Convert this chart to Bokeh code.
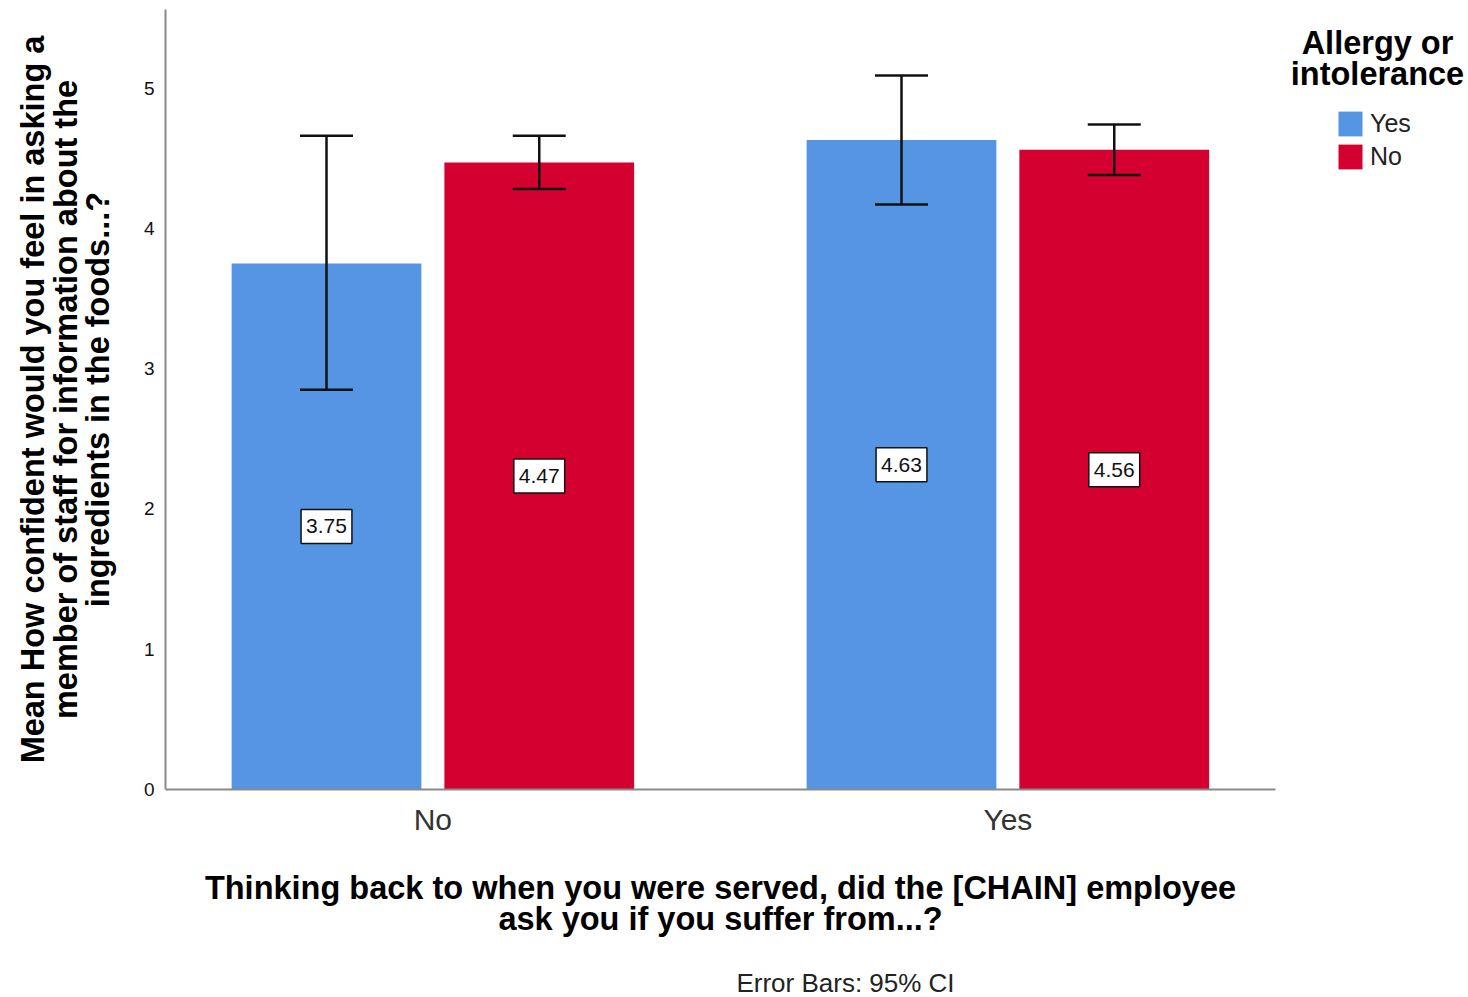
import math

from bokeh.embed import file_html
from bokeh.models import (ColumnDataSource, FixedTicker, Label, Range1d,
                          TeeHead, Whisker)
from bokeh.plotting import figure
from bokeh.resources import INLINE

# --- data -------------------------------------------------------------------
asked_groups = ["No", "Yes"]          # did the employee ask about allergies?
allergy_levels = ["Yes", "No"]        # respondent has an allergy / intolerance
mean_allergy_yes = [3.75, 4.63]
mean_allergy_no = [4.47, 4.56]
ci_low_allergy_yes = [2.85, 4.17]
ci_high_allergy_yes = [4.66, 5.09]
ci_low_allergy_no = [4.28, 4.38]
ci_high_allergy_no = [4.66, 4.74]
y_tick_values = [0, 1, 2, 3, 4, 5]

# --- style ------------------------------------------------------------------
BLUE = "#5595e4"
RED = "#d4002f"
FONT = "Liberation Sans"
INK = "#111111"
TITLE_SIZE = "32.5px"

# The plotting frame covers the whole canvas; both axes are pinned with
# fixed_location so that titles and the legend can sit around them.
W, H = 1468, 997
FL, FT, FB = 165, 9, 789          # axis corner (left, bottom) and axis top
AXIS_RIGHT = 1275                 # where the category axis line stops
PX_PER_X = 575.0                  # pixels per category step
X0 = -0.465                       # data x at the value axis
X_AXIS_END = X0 + (AXIS_RIGHT - FL) / PX_PER_X
Y_TOP = 5.56                      # data y at the top of the value axis
PX_PER_Y = (FB - FT) / Y_TOP
DODGE = 0.185
BAR_W = 0.33


def dx(px):
    return X0 + (px - FL) / PX_PER_X


def dy(py):
    return (FB - py) / PX_PER_Y


p = figure(width=W, height=H,
           x_range=Range1d(dx(0), dx(W)), y_range=Range1d(dy(H), dy(0)),
           output_backend="svg", toolbar_location=None,
           min_border=0, min_border_left=0, min_border_right=0,
           min_border_top=0, min_border_bottom=0)
p.title.visible = False
p.outline_line_color = None
p.xgrid.visible = False
p.ygrid.visible = False
p.background_fill_color = "white"
p.border_fill_color = "white"

series = [
    ("Yes", BLUE, -DODGE, mean_allergy_yes, ci_low_allergy_yes, ci_high_allergy_yes),
    ("No", RED, DODGE, mean_allergy_no, ci_low_allergy_no, ci_high_allergy_no),
]

for name, color, off, means, lo, hi in series:
    xs = [i + off for i in range(len(asked_groups))]
    src = ColumnDataSource(dict(x=xs, top=means, lo=lo, hi=hi))
    p.vbar(x="x", top="top", bottom=0, width=BAR_W, source=src,
           fill_color=color, line_color=None, legend_label=name)
    whisk = Whisker(source=src, base="x", lower="lo", upper="hi",
                    line_color=INK, line_width=2.5, level="overlay",
                    upper_head=TeeHead(size=53, line_color=INK, line_width=2.5),
                    lower_head=TeeHead(size=53, line_color=INK, line_width=2.5))
    p.add_layout(whisk)
    for x, m in zip(xs, means):
        p.add_layout(Label(x=x, y=m / 2, text=f"{m:.2f}", text_align="center",
                           text_baseline="middle", text_font=FONT,
                           text_font_size="21px", text_color=INK,
                           background_fill_color="white",
                           border_line_color=INK, border_line_width=1.5,
                           padding=(5, 10)))

# --- axes -------------------------------------------------------------------
for ax in (p.xaxis[0], p.yaxis[0]):
    ax.axis_line_color = "#8a8a8a"
    ax.axis_line_width = 2
    ax.major_tick_line_color = None
    ax.minor_tick_line_color = None
    ax.major_tick_out = 0
    ax.major_tick_in = 0
    ax.major_label_text_font = FONT
    ax.major_label_text_color = INK

p.yaxis.fixed_location = X0
p.yaxis.bounds = (0, Y_TOP)
p.yaxis.ticker = FixedTicker(ticks=y_tick_values)
p.yaxis.major_label_text_font_size = "19px"
p.yaxis.major_label_standoff = 11

p.xaxis.fixed_location = 0
p.xaxis.bounds = (X0, X_AXIS_END)
p.xaxis.ticker = FixedTicker(ticks=list(range(len(asked_groups))))
p.xaxis.major_label_overrides = {i: g for i, g in enumerate(asked_groups)}
p.xaxis.major_label_text_font_size = "30px"
p.xaxis.major_label_text_color = "#333333"
p.xaxis.major_label_standoff = 13

# --- axis titles --------------------------------------------------------------
y_title = ["Mean How confident would you feel in asking a",
           "member of staff for information about the",
           "ingredients in the foods...?"]
for px, line in zip([32, 65, 97], y_title):
    p.add_layout(Label(x=dx(px), y=dy(399), text=line, angle=math.pi / 2,
                       text_align="center", text_baseline="middle",
                       text_font=FONT, text_font_style="bold",
                       text_font_size=TITLE_SIZE, text_color="black"))

x_title = ["Thinking back to when you were served, did the [CHAIN] employee",
           "ask you if you suffer from...?"]
for py, line in zip([887, 918], x_title):
    p.add_layout(Label(x=dx(720), y=dy(py), text=line, text_align="center",
                       text_baseline="middle", text_font=FONT,
                       text_font_style="bold", text_font_size=TITLE_SIZE,
                       text_color="black"))

p.add_layout(Label(x=dx(845), y=dy(982), text="Error Bars: 95% CI",
                   text_align="center", text_baseline="middle", text_font=FONT,
                   text_font_size="26px", text_color="#222222"))

# --- legend -----------------------------------------------------------------
for py, line in zip([42, 73], ["Allergy or", "intolerance"]):
    p.add_layout(Label(x=dx(1377), y=dy(py), text=line, text_align="center",
                       text_baseline="middle", text_font=FONT,
                       text_font_style="bold", text_font_size=TITLE_SIZE,
                       text_color="black"))

leg = p.legend[0]
leg.location = (1335, H - 172)     # frame-relative: left, bottom
leg.padding = 0
leg.margin = 0
leg.spacing = 2
leg.glyph_width = 30
leg.glyph_height = 31
leg.label_height = 31
leg.label_standoff = 5
leg.label_text_font = FONT
leg.label_text_font_size = "25px"
leg.label_text_color = "#222222"
leg.border_line_color = None
leg.background_fill_alpha = 0

open("out.html", "w").write(file_html(p, INLINE))
